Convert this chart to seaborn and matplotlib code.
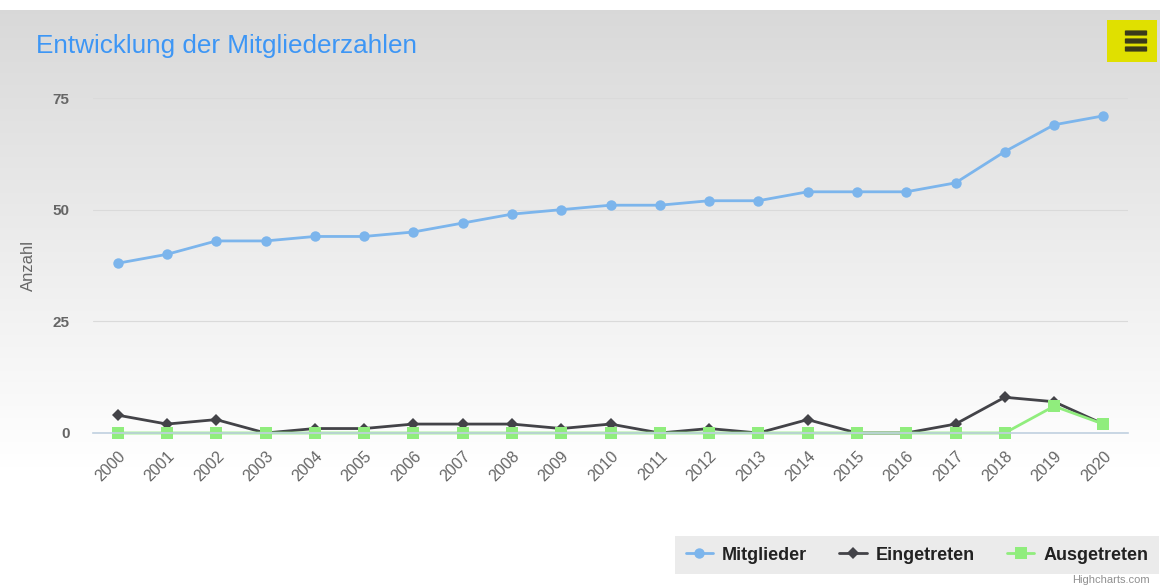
import numpy as np
import pandas as pd
import seaborn as sns
import matplotlib
matplotlib.use('Agg')
from matplotlib import pyplot as plt
from matplotlib.colors import to_hex
from matplotlib.patches import Rectangle, FancyBboxPatch

# Daten
jahre = list(range(2000, 2021))
mitglieder = [38, 40, 43, 43, 44, 44, 45, 47, 49, 50, 51, 51, 52, 52, 54, 54, 54, 56, 63, 69, 71]
eingetreten = [4, 2, 3, 0, 1, 1, 2, 2, 2, 1, 2, 0, 1, 0, 3, 0, 0, 2, 8, 7, 2]
ausgetreten = [0, 0, 0, 0, 0, 0, 0, 0, 0, 0, 0, 0, 0, 0, 0, 0, 0, 0, 0, 6, 2]
serien = ['Mitglieder', 'Eingetreten', 'Ausgetreten']
farben = {'Mitglieder': '#7cb5ec', 'Eingetreten': '#434348', 'Ausgetreten': '#90ed7d'}
marker = {'Mitglieder': 'o', 'Eingetreten': 'D', 'Ausgetreten': 's'}
y_ticks = [0, 25, 50, 75]

df = pd.DataFrame({
    'Jahr': jahre * 3,
    'Anzahl': mitglieder + eingetreten + ausgetreten,
    'Serie': ['Mitglieder'] * 21 + ['Eingetreten'] * 21 + ['Ausgetreten'] * 21,
})

sns.set_style('white')
plt.rcParams['font.family'] = ['Liberation Sans', 'DejaVu Sans']

W, H = 1160, 588
fig = plt.figure(figsize=(W / 100, H / 100), dpi=100)

# Hintergrund mit Verlauf (oben grau, unten weiss)
bg = fig.add_axes([0, 0, 1, 1 - 10 / H], zorder=-10)
grad = np.clip(np.linspace(0.85, 1.04, 256), 0, 1)
img = np.stack([grad, grad, grad], axis=-1)[:, None, :].repeat(2, axis=1)
bg.imshow(img, aspect='auto', extent=[0, 1, 0, 1], origin='upper')
bg.set_axis_off()

ax = fig.add_axes([93 / W, (H - 433) / H, (1128 - 93) / W, (433 - 98) / H])
ax.set_facecolor('none')

sns.lineplot(data=df, x='Jahr', y='Anzahl', hue='Serie', style='Serie',
             hue_order=serien, style_order=serien, palette=farben,
             markers=marker, dashes=False, linewidth=2, markersize=8,
             markeredgewidth=0, ax=ax, legend=True)

handles, labels = ax.get_legend_handles_labels()
ax.get_legend().remove()

# Marker anpassen (ueber die Farbe zuordnen)
groessen = {'#7cb5ec': 7.5, '#434348': 6.5, '#90ed7d': 8}
for line in list(ax.get_lines()) + list(handles):
    c = to_hex(line.get_color())
    if c in groessen:
        line.set_markersize(groessen[c])
    line.set_clip_on(False)

ax.set_xlim(1999.5, 2020.5)
ax.set_ylim(0, 75)
ax.set_yticks(y_ticks)
ax.set_xticks(jahre)
ax.set_xticklabels([str(j) for j in jahre], rotation=45, ha='right',
                   rotation_mode='anchor', color='#666666', fontsize=11.5)
ax.set_xticks(np.arange(1999.5, 2021, 1), minor=True)
ax.tick_params(axis='x', which='major', length=0, pad=11)
ax.tick_params(axis='x', which='minor', length=10, color='#c0d0e0', width=1)
ax.tick_params(axis='y', length=0, labelsize=11, labelcolor='#666666', pad=17)
for t in ax.get_yticklabels():
    t.set_fontweight('bold')
ax.grid(axis='y', color='#dadada', linewidth=0.8)
ax.grid(axis='x', visible=False)
for s in ['top', 'right', 'left']:
    ax.spines[s].set_visible(False)
ax.spines['bottom'].set_color('#c0d0e0')
ax.spines['bottom'].set_linewidth(1.2)
ax.set_xlabel('')
ax.set_ylabel('Anzahl', color='#666666', fontsize=12, labelpad=12)

fig.text(36 / W, 1 - 46 / H, 'Entwicklung der Mitgliederzahlen', color='#3d96f5',
         fontsize=18.8, va='center', ha='left')

# Legende
leg = fig.legend(handles, labels, loc='center', ncol=3,
                 bbox_to_anchor=(917 / W, 1 - 555 / H), frameon=True,
                 fontsize=13, handlelength=1.5, handletextpad=0.5,
                 columnspacing=1.8, borderpad=0.6, fancybox=False)
leg.get_frame().set_facecolor('#e6e6e6')
leg.get_frame().set_edgecolor('none')
for t in leg.get_texts():
    t.set_fontweight('bold')
    t.set_color('#222222')

fig.text(1150 / W, 1 - 580 / H, 'Highcharts.com', color='#909090',
         fontsize=8, ha='right', va='center')

# Menue-Knopf
fig.add_artist(Rectangle((1107 / W, 1 - 62 / H), 50 / W, 42 / H,
                         transform=fig.transFigure, facecolor='#e0e000',
                         edgecolor='none'))
for yy in [33, 41, 49]:
    fig.add_artist(FancyBboxPatch((1126 / W, 1 - (yy + 2) / H), 20 / W, 4 / H,
                                  boxstyle='round,pad=0.001', transform=fig.transFigure,
                                  facecolor='#3a3a1a', edgecolor='none'))

fig.savefig('out.png', dpi=100)
